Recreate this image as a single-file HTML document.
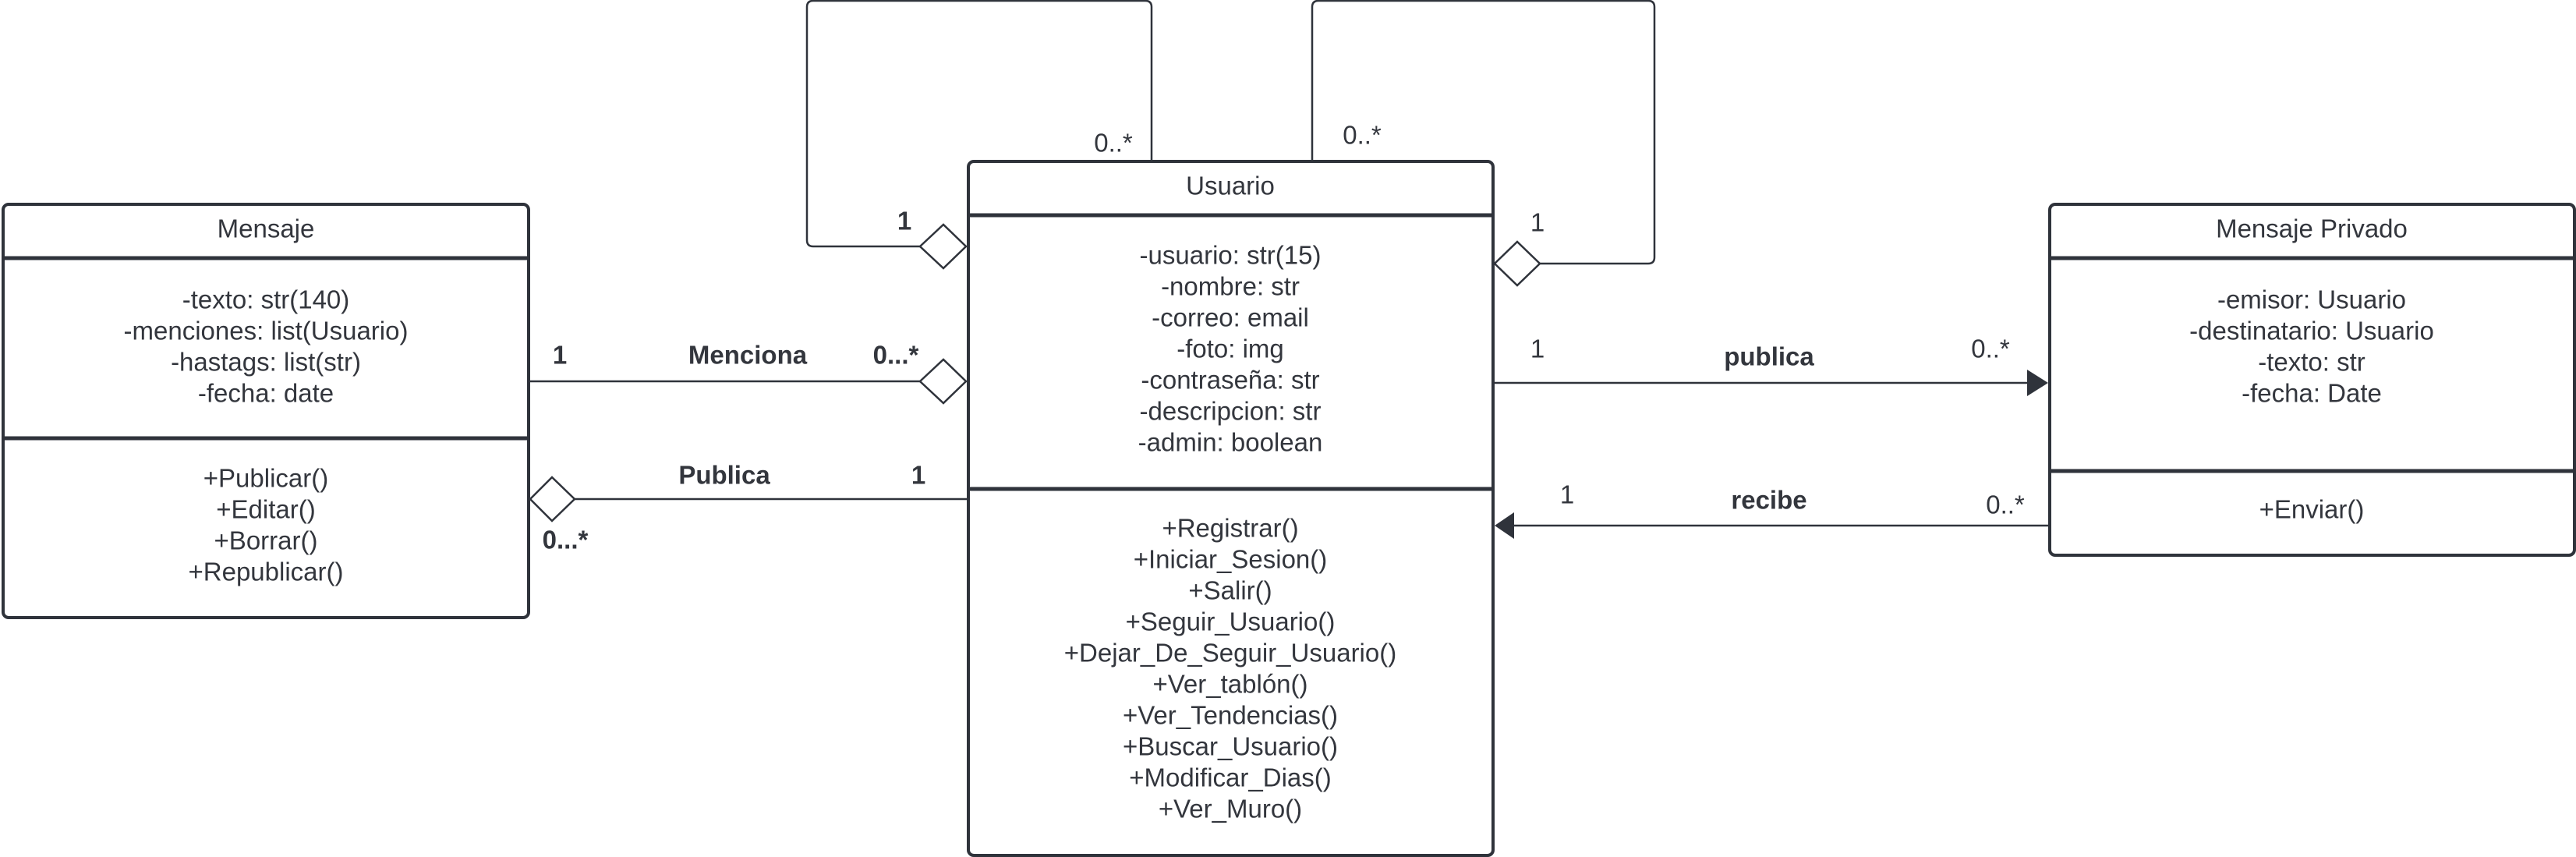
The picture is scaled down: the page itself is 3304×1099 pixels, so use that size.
<!DOCTYPE html>
<html><head><meta charset="utf-8"><style>
html,body{margin:0;padding:0;background:#fff;}
svg{display:block;}
text{font-family:"Liberation Sans",Arial,sans-serif;fill:#33363d;}
</style></head><body>
<svg width="3304" height="1099" viewBox="0 0 3304 1099" xmlns="http://www.w3.org/2000/svg">
<g fill="none" stroke="#2f333b" stroke-width="2.5">
<path d="M1180 316 H1043 Q1035 316 1035 308 V9 Q1035 1 1043 1 H1469 Q1477 1 1477 9 V206"/>
<path d="M1975 338 H2114 Q2122 338 2122 330 V9 Q2122 1 2114 1 H1691 Q1683 1 1683 9 V206"/>
<path d="M678 489 H1180"/>
<path d="M737 640 H1241"/>
<path d="M1915 491 H2600"/>
<path d="M2627 674 H1942"/>
</g>
<g fill="#fff" stroke="#2f333b" stroke-width="2.5">
<polygon points="1180,316 1210,288 1239,316 1210,344"/>
<polygon points="1917,338 1946,310 1975,338 1946,366"/>
<polygon points="1180,489 1210,461 1239,489 1210,517"/>
<polygon points="680,640 708,612 737,640 708,668"/>
</g>
<g fill="#2f333b">
<polygon points="2600,474 2627,491 2600,508"/>
<polygon points="1942,657 1917,674 1942,691"/>
</g>
<g fill="#fff" stroke="#2f333b" stroke-width="4">
<rect x="4" y="262" width="674" height="530" rx="7"/>
<rect x="1242" y="207" width="673" height="890" rx="7"/>
<rect x="2629" y="262" width="673" height="450" rx="7"/>
</g>
<g stroke="#2f333b" stroke-width="5">
<path d="M4 331 H678 M4 562 H678"/>
<path d="M1242 276 H1915 M1242 627 H1915"/>
<path d="M2629 331 H3302 M2629 604 H3302"/>
</g>
<g font-size="33" text-anchor="middle" dominant-baseline="central">
<text x="341" y="293">Mensaje</text>
<text x="341" y="384">-texto: str(140)</text>
<text x="341" y="424">-menciones: list(Usuario)</text>
<text x="341" y="464">-hastags: list(str)</text>
<text x="341" y="504">-fecha: date</text>
<text x="341" y="613">+Publicar()</text>
<text x="341" y="653">+Editar()</text>
<text x="341" y="693">+Borrar()</text>
<text x="341" y="733">+Republicar()</text>

<text x="1578" y="238">Usuario</text>
<text x="1578" y="327">-usuario: str(15)</text>
<text x="1578" y="367">-nombre: str</text>
<text x="1578" y="407">-correo: email</text>
<text x="1578" y="447">-foto: img</text>
<text x="1578" y="487">-contraseña: str</text>
<text x="1578" y="527">-descripcion: str</text>
<text x="1578" y="567">-admin: boolean</text>
<text x="1578" y="677">+Registrar()</text>
<text x="1578" y="717">+Iniciar_Sesion()</text>
<text x="1578" y="757">+Salir()</text>
<text x="1578" y="797">+Seguir_Usuario()</text>
<text x="1578" y="837">+Dejar_De_Seguir_Usuario()</text>
<text x="1578" y="877">+Ver_tablón()</text>
<text x="1578" y="917">+Ver_Tendencias()</text>
<text x="1578" y="957">+Buscar_Usuario()</text>
<text x="1578" y="997">+Modificar_Dias()</text>
<text x="1578" y="1037">+Ver_Muro()</text>

<text x="2965" y="293">Mensaje Privado</text>
<text x="2965" y="384">-emisor: Usuario</text>
<text x="2965" y="424">-destinatario: Usuario</text>
<text x="2965" y="464">-texto: str</text>
<text x="2965" y="504">-fecha: Date</text>
<text x="2965" y="653">+Enviar()</text>

<text x="1160" y="283" font-weight="bold">1</text>
<text x="1428" y="183">0..*</text>
<text x="1972" y="285">1</text>
<text x="1747" y="173">0..*</text>
<text x="718" y="455" font-weight="bold">1</text>
<text x="959" y="455" font-weight="bold">Menciona</text>
<text x="1149" y="455" font-weight="bold">0...*</text>
<text x="929" y="609" font-weight="bold">Publica</text>
<text x="1178" y="609" font-weight="bold">1</text>
<text x="725" y="692" font-weight="bold">0...*</text>
<text x="1972" y="447">1</text>
<text x="2269" y="457" font-weight="bold">publica</text>
<text x="2553" y="447">0..*</text>
<text x="2010" y="634">1</text>
<text x="2269" y="641" font-weight="bold">recibe</text>
<text x="2572" y="647">0..*</text>
</g>
</svg>
</body></html>
